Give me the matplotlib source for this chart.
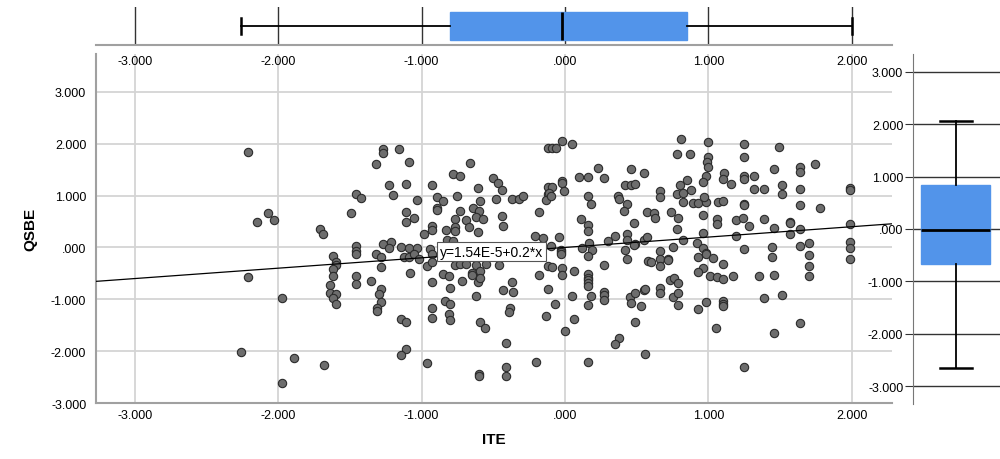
import matplotlib
matplotlib.use("Agg")
import matplotlib.pyplot as plt
import numpy as np

plt.rcParams['font.family'] = ['Liberation Sans', 'DejaVu Sans']

strip_far_left = [(-2.21, 1.84), (-2.07, 0.67), (-2.15, 0.49), (-2.03, 0.53), (-2.21, -0.57),
                  (-1.97, -0.97), (-2.26, -2.02), (-1.89, -2.13), (-1.97, -2.62), (-1.68, -2.27)]
strip_m17 = [(-1.71, 0.36), (-1.69, 0.26), (-1.62, -0.17), (-1.60, -0.29), (-1.60, -0.34), (-1.62, -0.42),
             (-1.62, -0.55), (-1.64, -0.72), (-1.64, -0.88), (-1.60, -0.89), (-1.62, -0.97), (-1.60, -1.10)]
strip_m15 = [(-1.46, 1.03), (-1.42, 0.96), (-1.49, 0.66), (-1.46, 0.03), (-1.46, -0.06), (-1.46, -0.12),
             (-1.46, -0.56), (-1.46, -0.71), (-1.35, -0.65)]
strip_m13 = [(-1.27, 1.90), (-1.27, 1.83), (-1.16, 1.89), (-1.32, 1.61), (-1.09, 1.65), (-1.23, 1.21),
             (-1.11, 1.23), (-1.20, 1.01), (-1.03, 0.91), (-1.11, 0.69), (-1.11, 0.49), (-1.05, 0.56),
             (-1.27, 0.06), (-1.21, 0.10), (-1.23, -0.02), (-1.32, -0.13), (-1.28, -0.18), (-1.28, -0.38),
             (-1.28, -0.81), (-1.30, -0.89), (-1.28, -1.05), (-1.31, -1.16), (-1.31, -1.23)]
strip_m11 = [(-1.14, 0.01), (-1.09, -0.02), (-1.03, -0.01), (-1.12, -0.18), (-1.09, -0.18), (-1.05, -0.13),
             (-1.02, -0.23), (-1.08, -0.50), (-1.14, -1.38), (-1.11, -1.44), (-1.11, -1.96), (-1.14, -2.07)]
strip_m09 = [(-0.93, 1.21), (-0.89, 0.97), (-0.89, 0.77), (-0.89, 0.72), (-0.85, 0.89), (-0.93, 0.41),
             (-0.93, 0.33), (-0.98, 0.25), (-0.94, -0.03), (-0.93, -0.13), (-0.96, -0.36), (-0.93, -0.29),
             (-0.93, -0.66), (-0.93, -1.17), (-0.93, -1.36), (-0.96, -2.22)]
strip_m08 = [(-0.78, 1.42), (-0.73, 1.38), (-0.75, 0.99), (-0.77, 0.54), (-0.83, 0.34), (-0.77, 0.40),
             (-0.77, 0.31), (-0.82, 0.15), (-0.78, 0.12), (-0.77, -0.34), (-0.73, -0.31), (-0.85, -0.52),
             (-0.81, -0.56), (-0.80, -0.78), (-0.72, -0.64), (-0.84, -1.04), (-0.80, -1.09), (-0.81, -1.28),
             (-0.80, -1.40)]
strip_m06 = [(-0.66, 1.63), (-0.61, 1.15), (-0.59, 0.89), (-0.73, 0.71), (-0.64, 0.77), (-0.60, 0.71),
             (-0.62, 0.59), (-0.57, 0.55), (-0.69, 0.52), (-0.67, 0.40), (-0.61, 0.29), (-0.69, -0.31),
             (-0.62, -0.33), (-0.55, -0.31), (-0.65, -0.50), (-0.61, -0.66), (-0.59, -0.45), (-0.59, -0.58),
             (-0.65, -0.53), (-0.62, -0.93), (-0.59, -1.44), (-0.56, -1.55), (-0.60, -2.44), (-0.60, -2.48)]
strip_m04 = [(-0.50, 1.33), (-0.47, 1.24), (-0.44, 1.11), (-0.48, 0.94), (-0.37, 0.94), (-0.32, 0.93),
             (-0.29, 1.00), (-0.44, 0.61), (-0.43, 0.41), (-0.46, -0.34), (-0.37, -0.66), (-0.43, -0.82),
             (-0.36, -0.86), (-0.38, -1.16), (-0.39, -1.24), (-0.41, -1.84), (-0.41, -2.31), (-0.41, -2.47)]
strip_m01 = [(-0.12, 1.91), (-0.12, 1.17), (-0.12, 1.03), (-0.18, 0.69), (-0.13, 0.92), (-0.21, 0.22),
             (-0.15, 0.19), (-0.12, -0.36), (-0.18, -0.53), (-0.12, -0.80), (-0.13, -1.32), (-0.20, -2.21),
             (-0.09, 1.92), (-0.06, 1.91), (-0.09, 1.17), (-0.11, 1.05), (-0.10, 1.00), (-0.04, 0.20),
             (-0.10, 0.02), (-0.09, -0.38), (-0.07, -1.10)]
strip_00 = [(-0.02, 2.06), (0.05, 1.99), (-0.02, 1.28), (-0.02, 1.25), (-0.01, 1.09), (-0.03, -0.04),
            (-0.03, -0.09), (-0.03, -0.13), (-0.02, -0.39), (0.06, -0.45), (-0.02, -0.53), (0.05, -0.94),
            (0.06, -1.38), (0.00, -1.62)]
strip_p02 = [(0.10, 1.35), (0.16, 1.35), (0.23, 1.53), (0.27, 1.33), (0.16, 1.00), (0.18, 0.84),
             (0.11, 0.54), (0.16, 0.44), (0.16, 0.31), (0.12, -0.02), (0.17, 0.09), (0.19, -0.04),
             (0.16, -0.17), (0.16, -0.52), (0.16, -0.58), (0.16, -0.63), (0.16, -0.69), (0.16, -0.75),
             (0.18, -0.93), (0.16, -1.11), (0.16, -2.21)]
strip_p03 = [(0.30, 0.12), (0.35, 0.23), (0.27, -0.34), (0.27, -0.86), (0.27, -0.91), (0.27, -1.02),
             (0.37, 1.00), (0.38, 0.93), (0.43, 0.84), (0.41, 0.71), (0.38, -1.74), (0.35, -1.86)]
strip_p05 = [(0.46, 1.51), (0.55, 1.43), (0.42, 1.21), (0.46, 1.21), (0.49, 1.22), (0.48, 0.47),
             (0.43, 0.25), (0.43, 0.15), (0.49, 0.06), (0.42, -0.04), (0.48, 0.04), (0.43, -0.23),
             (0.45, -0.96), (0.46, -1.07), (0.49, -0.87), (0.55, -0.82), (0.53, -1.12), (0.49, -1.44),
             (0.56, -2.05)]
strip_p06 = [(0.57, 0.68), (0.55, 0.15), (0.57, 0.20), (0.58, -0.26), (0.60, -0.28), (0.66, 1.08),
             (0.66, 0.98), (0.62, 0.66), (0.63, 0.57), (0.66, -0.06), (0.66, -0.23), (0.66, -0.36),
             (0.66, -0.79), (0.66, -0.87), (0.56, -0.80)]
strip_p08 = [(0.81, 2.09), (0.78, 1.80), (0.87, 1.81), (0.85, 1.30), (0.80, 1.21), (0.78, 1.03),
             (0.82, 1.05), (0.88, 1.10), (0.82, 0.88), (0.89, 0.86), (0.93, 0.86), (0.74, 0.68),
             (0.79, 0.56), (0.78, 0.36), (0.82, 0.14), (0.92, 0.09), (0.75, 0.01), (0.72, -0.23),
             (0.72, -0.25), (0.73, -0.63), (0.76, -0.58), (0.79, -0.68), (0.75, -0.95), (0.79, -0.87),
             (0.79, -1.11)]
strip_p10 = [(1.00, 2.04), (1.00, 1.74), (0.99, 1.65), (1.00, 1.56), (0.98, 1.38), (0.96, 1.26),
             (0.98, 0.88), (0.97, 0.97), (0.96, 0.63), (0.96, 0.28), (0.96, -0.01), (0.98, -0.10),
             (0.93, -0.19), (0.98, -0.13), (1.03, -0.20), (0.96, -0.39), (0.93, -0.47), (1.01, -0.55),
             (1.06, -0.57), (0.93, -1.19), (0.98, -1.05), (1.05, -1.55)]
strip_p11 = [(1.11, 1.44), (1.10, 1.32), (1.16, 1.23), (1.07, 0.88), (1.10, 0.89), (1.06, 0.55),
             (1.06, 0.45), (1.10, -0.31), (1.10, -0.61), (1.17, -0.56), (1.10, -1.03), (1.10, -1.09),
             (1.10, -1.12)]
strip_p13 = [(1.25, 2.00), (1.25, 1.74), (1.25, 1.38), (1.25, 1.32), (1.32, 1.37), (1.32, 1.12),
             (1.39, 1.12), (1.25, 0.84), (1.25, 0.81), (1.19, 0.52), (1.24, 0.56), (1.28, 0.42),
             (1.19, 0.22), (1.25, -0.03), (1.35, -0.56), (1.39, -0.98), (1.25, -2.31)]
strip_p15 = [(1.49, 1.93), (1.46, 1.51), (1.51, 1.21), (1.51, 1.04), (1.39, 0.54), (1.46, 0.38),
             (1.44, 0.01), (1.44, -0.19), (1.46, -0.53), (1.51, -0.92), (1.46, -1.65)]
strip_p17 = [(1.64, 1.55), (1.64, 1.46), (1.74, 1.61), (1.64, 1.13), (1.64, 0.81), (1.78, 0.77),
             (1.57, 0.49), (1.57, 0.47), (1.64, 0.36), (1.57, 0.25), (1.64, 0.02), (1.70, 0.09),
             (1.70, -0.15), (1.70, -0.36), (1.70, -0.56), (1.64, -1.46)]
strip_p20 = [(1.99, 1.14), (1.99, 1.11), (1.99, 0.45), (1.99, 0.10), (1.99, -0.02), (1.99, -0.22)]

# fit line shown in the label
fit_intercept = 1.54e-5
fit_slope = 0.2
fit_label = "y=1.54E-5+0.2*x"

# marginal box plots
ite_box = dict(whislo=-2.26, q1=-0.80, med=-0.02, q3=0.85, whishi=2.00, fliers=[])
qsbe_box = dict(whislo=-2.65, q1=-0.67, med=-0.02, q3=0.84, whishi=2.07, fliers=[])

ticks = [-3, -2, -1, 0, 1, 2, 3]
box_blue = '#5294ea'


def fmt(v):
    s = "%.3f" % v
    if s.startswith("0."):
        s = s[1:]
    return s


def main():
    strips = [strip_far_left, strip_m17, strip_m15, strip_m13, strip_m11, strip_m09, strip_m08,
              strip_m06, strip_m04, strip_m01, strip_00, strip_p02, strip_p03, strip_p05, strip_p06,
              strip_p08, strip_p10, strip_p11, strip_p13, strip_p15, strip_p17, strip_p20]
    pts = np.array([p for s in strips for p in s])
    ite, qsbe = pts[:, 0], pts[:, 1]

    xlim = (-3.27, 2.28)
    fig = plt.figure(figsize=(10, 4.6), dpi=100)
    ax = fig.add_axes([0.096, 0.1217, 0.796, 0.7587])
    ax_top = fig.add_axes([0.096, 0.9, 0.796, 0.0826])
    ax_right = fig.add_axes([0.913, 0.1196, 0.087, 0.7609])

    # main scatter
    ax.scatter(ite, qsbe, s=36, c='#6d6d6d', edgecolors='#2b2b2b', linewidths=0.8, zorder=3)
    xx = np.array(xlim)
    ax.plot(xx, fit_intercept + fit_slope * xx, color='black', lw=0.9, zorder=4)
    ax.text(-0.871, -0.08, fit_label, fontsize=10, va='center', ha='left', zorder=5,
            bbox=dict(boxstyle='square,pad=0.2', fc='white', ec='#555555', lw=0.8))
    ax.set_xlim(xlim)
    ax.set_ylim(-3.0, 3.73)
    ax.set_xticks(ticks[:-1])
    ax.set_xticklabels([fmt(t) for t in ticks[:-1]])
    ax.set_yticks(ticks)
    ax.set_yticklabels([fmt(t) for t in ticks])
    ax.grid(color='#d4d4d4', lw=1.3)
    ax.set_axisbelow(True)
    ax.tick_params(length=0, labelsize=9)
    ax.tick_params(axis='y', pad=7)
    ax.tick_params(axis='x', pad=4)
    for side in ['top', 'right']:
        ax.spines[side].set_visible(False)
    for side in ['left', 'bottom']:
        ax.spines[side].set_color('#a0a0a0')
        ax.spines[side].set_linewidth(1.5)
    ax.set_xlabel('ITE', fontsize=11, fontweight='bold', labelpad=8)
    ax.set_ylabel('QSBE', fontsize=11, fontweight='bold', labelpad=10)

    # top box plot (ITE)
    ax_top.bxp([ite_box], positions=[0.5], widths=0.76, capwidths=0.4, orientation='horizontal',
               patch_artist=True, showfliers=False,
               boxprops=dict(facecolor=box_blue, edgecolor=box_blue),
               medianprops=dict(color='black', lw=2),
               whiskerprops=dict(color='black', lw=1.3),
               capprops=dict(color='black', lw=1.8))
    ax_top.set_xlim(xlim)
    ax_top.set_ylim(0, 1)
    ax_top.set_xticks(ticks[:-1])
    ax_top.set_xticklabels([fmt(t) for t in ticks[:-1]])
    ax_top.set_yticks([])
    ax_top.grid(axis='x', color='#333333', lw=1)
    ax_top.set_axisbelow(True)
    ax_top.tick_params(length=0, labelsize=9, pad=7)
    for side in ['top', 'right', 'left']:
        ax_top.spines[side].set_visible(False)
    ax_top.spines['bottom'].set_color('#a0a0a0')
    ax_top.spines['bottom'].set_linewidth(1.5)

    # right box plot (QSBE)
    ax_right.bxp([qsbe_box], positions=[0.49], widths=0.79, capwidths=0.37,
                 patch_artist=True, showfliers=False,
                 boxprops=dict(facecolor=box_blue, edgecolor=box_blue),
                 medianprops=dict(color='black', lw=2),
                 whiskerprops=dict(color='black', lw=1.3),
                 capprops=dict(color='black', lw=1.8))
    ax_right.set_xlim(0, 1)
    ax_right.set_ylim(-3.34, 3.34)
    ax_right.set_yticks(ticks)
    ax_right.set_yticklabels([fmt(t) for t in ticks])
    ax_right.set_xticks([])
    ax_right.grid(axis='y', color='#333333', lw=1)
    ax_right.set_axisbelow(True)
    ax_right.tick_params(axis='y', length=6, color='#333333', labelsize=9, pad=1)
    for side in ['top', 'right', 'bottom']:
        ax_right.spines[side].set_visible(False)
    ax_right.spines['left'].set_color('#777777')

    fig.savefig('out.png', dpi=100)


if __name__ == "__main__":
    main()
